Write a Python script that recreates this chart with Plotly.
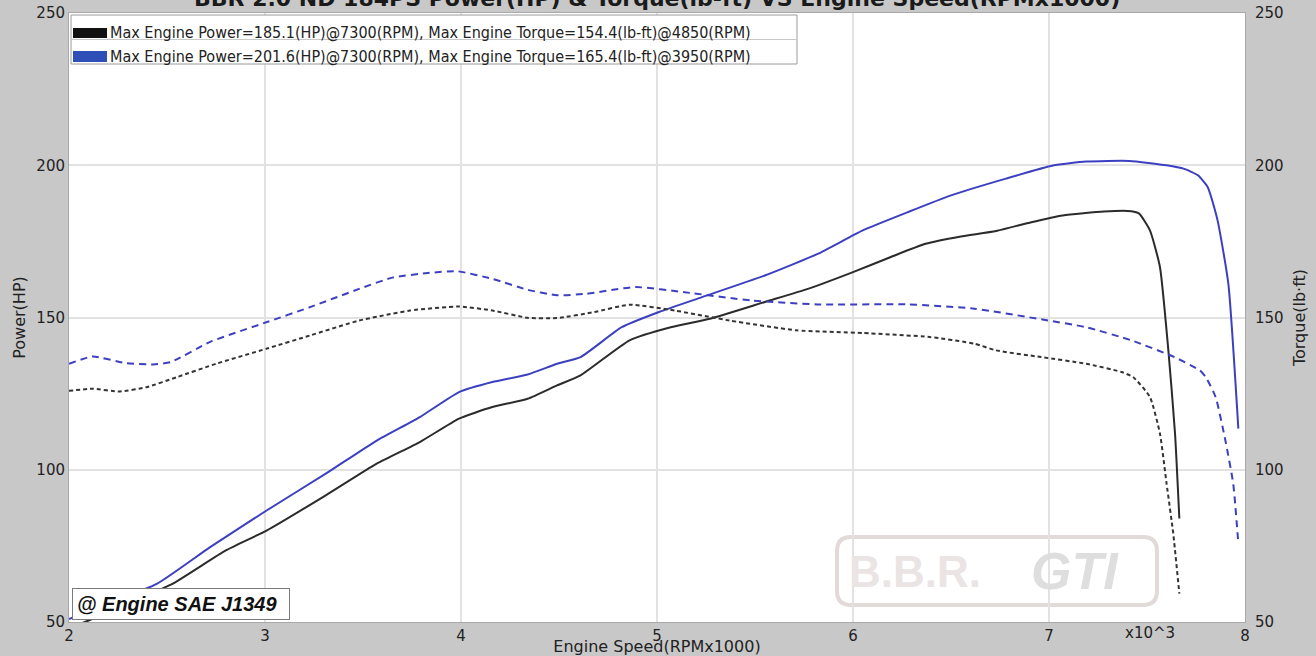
import plotly.graph_objects as go

# ---------------- data ----------------
rpm_blue_power = [2.00, 2.20, 2.45, 2.72, 3.01, 3.31, 3.57, 3.79, 3.99, 4.16, 4.34, 4.49, 4.61,
                  4.82, 5.01, 5.23, 5.55, 5.82, 6.05, 6.28, 6.50, 6.78, 7.02, 7.19, 7.41, 7.60,
                  7.69, 7.76, 7.81, 7.86, 7.915, 7.966]
hp_blue = [51.0, 56.0, 62.6, 74.6, 86.7, 98.7, 109.6, 117.3, 125.5, 128.8, 131.3, 134.8, 137.0,
           146.8, 151.8, 156.7, 163.8, 170.9, 178.6, 184.6, 190.1, 195.6, 199.9, 201.2, 201.4, 200.0,
           198.8, 196.7, 192.8, 181.9, 161.1, 113.5]

rpm_black_power = [2.00, 2.10, 2.30, 2.53, 2.80, 3.01, 3.31, 3.57, 3.79, 3.99, 4.16, 4.34, 4.49,
                   4.61, 4.86, 5.07, 5.27, 5.55, 5.77, 6.00, 6.19, 6.37, 6.55, 6.73, 6.91, 7.07,
                   7.28, 7.42, 7.46, 7.515, 7.566, 7.609, 7.643, 7.665]
hp_black = [48.0, 50.5, 56.0, 62.6, 73.5, 80.1, 91.6, 102.0, 109.1, 116.8, 120.6, 123.3, 127.7,
            131.0, 142.5, 146.8, 149.6, 155.1, 159.4, 164.9, 169.8, 174.2, 176.6, 178.4, 181.3, 183.5,
            184.8, 184.9, 184.1, 178.6, 166.6, 139.2, 111.9, 84.0]

rpm_blue_torque = [2.00, 2.12, 2.29, 2.43, 2.52, 2.72, 3.01, 3.23, 3.48, 3.65, 3.83, 3.98, 4.16,
                   4.34, 4.49, 4.64, 4.89, 5.14, 5.48, 5.82, 6.28, 6.62, 6.96, 7.19, 7.42, 7.64,
                   7.77, 7.80, 7.85, 7.90, 7.94, 7.966]
tq_blue = [134.8, 137.2, 135.0, 134.6, 135.4, 142.0, 148.5, 153.4, 159.4, 163.1, 164.6, 165.2, 162.7,
           159.1, 157.3, 157.8, 160.0, 158.3, 155.6, 154.3, 154.3, 152.9, 149.4, 146.8, 142.5, 137.0,
           132.6, 130.4, 123.9, 109.6, 95.4, 75.7]

rpm_black_torque = [2.00, 2.12, 2.26, 2.40, 2.55, 2.75, 3.01, 3.23, 3.48, 3.74, 3.99, 4.16, 4.34,
                    4.49, 4.68, 4.86, 5.09, 5.37, 5.71, 6.05, 6.39, 6.62, 6.73, 6.96, 7.19, 7.37,
                    7.43, 7.515, 7.566, 7.60, 7.634, 7.665]
tq_black = [125.9, 126.6, 125.7, 127.2, 130.4, 134.8, 139.8, 144.1, 149.0, 152.3, 153.6, 152.3, 149.9,
            149.8, 151.8, 154.2, 152.3, 149.0, 145.8, 144.9, 143.6, 141.4, 139.2, 137.0, 134.8, 132.1,
            130.4, 123.9, 111.9, 95.4, 79.0, 59.3]

legend_black = "Max Engine Power=185.1(HP)@7300(RPM), Max Engine Torque=154.4(lb-ft)@4850(RPM)"
legend_blue = "Max Engine Power=201.6(HP)@7300(RPM), Max Engine Torque=165.4(lb-ft)@3950(RPM)"
title_text = "BBR 2.0 ND 184PS Power(HP) & Torque(lb-ft) VS Engine Speed(RPMx1000)"
x_ticks = [2, 3, 4, 5, 6, 7, 8]
y_ticks = [50, 100, 150, 200, 250]

# ---------------- styling ----------------
W, H = 1316, 656
ML, MR, MT, MB = 69, 71, 13, 34
PW, PH = W - ML - MR, H - MT - MB

def pxx(p):
    return (p - ML) / PW

def pxy(p):
    return 1 - (p - MT) / PH

BLUE = "#3c40c0"
BLACK = "#2b2b2b"
GRID = "#e2e2e2"
FONT = "DejaVu Sans"

fig = go.Figure()
fig.add_trace(go.Scatter(x=rpm_black_torque, y=tq_black, yaxis="y2", mode="lines",
                         line=dict(color="#333333", width=2, dash="4px,3px", shape="spline", smoothing=0.5),
                         name=legend_black + " (torque)", showlegend=False))
fig.add_trace(go.Scatter(x=rpm_blue_torque, y=tq_blue, yaxis="y2", mode="lines",
                         line=dict(color=BLUE, width=2, dash="7px,5px", shape="spline", smoothing=0.5),
                         name=legend_blue + " (torque)", showlegend=False))
fig.add_trace(go.Scatter(x=rpm_black_power, y=hp_black, mode="lines",
                         line=dict(color=BLACK, width=2, shape="spline", smoothing=0.5),
                         name=legend_black, showlegend=False))
fig.add_trace(go.Scatter(x=rpm_blue_power, y=hp_blue, mode="lines",
                         line=dict(color=BLUE, width=2, shape="spline", smoothing=0.5),
                         name=legend_blue, showlegend=False))

shapes = []
annotations = []

# watermark logo (rounded box)
lx0, lx1, ly0, ly1 = 837, 1157, 537, 605
rx, ry = 14, 14
def P(x, y):
    return f"{pxx(x):.5f},{pxy(y):.5f}"
path = (f"M {P(lx0+rx, ly0)} L {P(lx1-rx, ly0)} Q {P(lx1, ly0)} {P(lx1, ly0+ry)} "
        f"L {P(lx1, ly1-ry)} Q {P(lx1, ly1)} {P(lx1-rx, ly1)} L {P(lx0+rx, ly1)} "
        f"Q {P(lx0, ly1)} {P(lx0, ly1-ry)} L {P(lx0, ly0+ry)} Q {P(lx0, ly0)} {P(lx0+rx, ly0)} Z")
shapes.append(dict(type="path", xref="paper", yref="paper", path=path,
                   line=dict(color="#e2d9d9", width=4), fillcolor="rgba(0,0,0,0)", layer="below"))
annotations.append(dict(xref="paper", yref="paper", x=pxx(915), y=pxy(571), text="<b>B.B.R.</b>",
                        showarrow=False, font=dict(family="Liberation Sans", size=44, color="#ebe4e4"),
                        xanchor="center", yanchor="middle"))
annotations.append(dict(xref="paper", yref="paper", x=pxx(1075), y=pxy(571), text="<b><i>GTI</i></b>",
                        showarrow=False, font=dict(family="Liberation Sans", size=52, color="#dedede"),
                        xanchor="center", yanchor="middle"))

# legend box (table style)
bx0, bx1, by0, by1, bmid = 71, 797, 15, 64, 39.5
shapes.append(dict(type="rect", xref="paper", yref="paper", x0=pxx(bx0), x1=pxx(bx1), y0=pxy(by1), y1=pxy(by0),
                   fillcolor="white", line=dict(color="#9a9a9a", width=1), layer="above"))
shapes.append(dict(type="line", xref="paper", yref="paper", x0=pxx(bx0), x1=pxx(bx1), y0=pxy(bmid), y1=pxy(bmid),
                   line=dict(color="#c8c8c8", width=1), layer="above"))
shapes.append(dict(type="rect", xref="paper", yref="paper", x0=pxx(73), x1=pxx(107), y0=pxy(38), y1=pxy(28),
                   fillcolor="#111111", line=dict(width=0), layer="above"))
shapes.append(dict(type="rect", xref="paper", yref="paper", x0=pxx(73), x1=pxx(107), y0=pxy(62), y1=pxy(51),
                   fillcolor="#2f4fb8", line=dict(width=0), layer="above"))
for txt, yc in [(legend_black, 32.5), (legend_blue, 56)]:
    annotations.append(dict(xref="paper", yref="paper", x=pxx(108), y=pxy(yc), text=txt, showarrow=False,
                            xanchor="left", yanchor="middle",
                            font=dict(family="DejaVu Sans Condensed, DejaVu Sans", size=16, color="#222222")))

# SAE box
annotations.append(dict(xref="paper", yref="paper", x=pxx(72), y=pxy(620), xanchor="left", yanchor="bottom",
                        text="<b><i>@ Engine SAE J1349</i></b>", showarrow=False,
                        font=dict(family="Liberation Sans", size=20, color="#111111"),
                        bgcolor="white", bordercolor="#7a7a7a", borderwidth=1, borderpad=4, width=208, align="left"))

# title (cut off at top, as in the reference)
annotations.append(dict(xref="paper", yref="paper", x=0.5, y=1, yanchor="bottom", yshift=0,
                        text="<b>" + title_text + "</b>", showarrow=False,
                        font=dict(family=FONT, size=22, color="#1a1a1a")))

# x10^3 marker
annotations.append(dict(xref="paper", yref="paper", x=pxx(1150), y=pxy(633), text="x10^3", showarrow=False,
                        xanchor="center", yanchor="middle", font=dict(family=FONT, size=15, color="#222222")))

axis_common = dict(showgrid=True, gridcolor=GRID, gridwidth=1.5, zeroline=False, showline=True,
                   linecolor="#a8a8a8", linewidth=1, ticks="", automargin=False,
                   tickfont=dict(family=FONT, size=15, color="#222222"))

fig.update_layout(
    width=W, height=H,
    margin=dict(l=ML, r=MR, t=MT, b=MB, autoexpand=False),
    paper_bgcolor="#c8c8c8", plot_bgcolor="white",
    showlegend=False,
    xaxis=dict(range=[2, 8], tickvals=x_ticks, mirror=True,
               title=dict(text="Engine Speed(RPMx1000)", font=dict(family=FONT, size=16, color="#222222"), standoff=0),
               **axis_common),
    yaxis=dict(range=[50, 250], tickvals=y_ticks, mirror=True,
               title=dict(text="Power(HP)", font=dict(family=FONT, size=16, color="#222222"), standoff=6),
               **axis_common),
    yaxis2=dict(range=[50, 250], tickvals=y_ticks, overlaying="y", side="right",
                showgrid=False, zeroline=False, showline=False, ticks="", automargin=False,
                ticklabelstandoff=9,
                tickfont=dict(family=FONT, size=15, color="#222222"),
                title=dict(text="Torque(lb·ft)", font=dict(family=FONT, size=16, color="#222222"), standoff=11)),
    shapes=shapes, annotations=annotations,
)

fig.write_html("out.html", config={"displayModeBar": False},
               post_script="document.body.style.margin='0px';")
